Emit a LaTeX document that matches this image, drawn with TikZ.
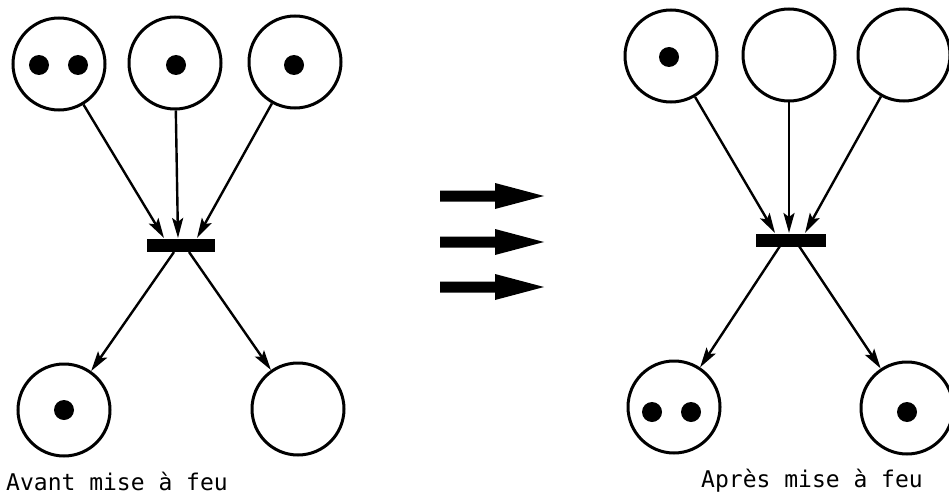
\documentclass[tikz,border=0pt]{standalone}
\usepackage{fontspec}
\setmonofont{DejaVu Sans Mono}
\usetikzlibrary{arrows.meta}
\tikzset{
  place/.style={circle, draw, line width=3pt, minimum size=92pt, inner sep=0pt},
  trans/.style={rectangle, fill=black, minimum width=68pt, minimum height=13pt, inner sep=0pt},
  arc/.style={line width=2.4pt, -{Stealth[length=20pt,width=11pt,inset=4pt]}},
  token/.style={fill=black},
  caption/.style={font=\ttfamily\fontsize{23}{27}\selectfont, inner sep=0pt},
  bigarrow/.style={fill=black}
}
\begin{document}
\begin{tikzpicture}[x=1pt,y=-1pt]
\useasboundingbox (0,0) rectangle (949,500);
% ---------- left net: before firing ----------
\node[place] (p1) at (59,64) {};
\node[place] (p2) at (175,63) {};
\node[place] (p3) at (295,62) {};
\node[trans] (t1) at (181,245) {};
\node[place] (p4) at (64,410) {};
\node[place] (p5) at (298,409) {};
\coordinate (t1a) at (164,238);
\coordinate (t1b) at (178,238);
\coordinate (t1c) at (197,238);
\coordinate (t1d) at (174,252);
\coordinate (t1e) at (189,252);
\draw[arc] (p1) -- (t1a);
\draw[arc] (p2) -- (t1b);
\draw[arc] (p3) -- (t1c);
\draw[arc] (t1d) -- (p4);
\draw[arc] (t1e) -- (p5);
\fill[token] (39,65) circle (10);
\fill[token] (78,65) circle (10);
\fill[token] (176,65) circle (10);
\fill[token] (294,65) circle (10);
\fill[token] (64,410) circle (10);
\node[caption] (c1) at (117,481) {Avant mise à feu};
% ---------- middle arrows ----------
\foreach \yy in {196,242,287}{
  \fill[bigarrow] (440,\yy-5.5) -- (495,\yy-5.5) -- (495,\yy-13) -- (544,\yy)
     -- (495,\yy+13) -- (495,\yy+5.5) -- (440,\yy+5.5) -- cycle;
}
% ---------- right net: after firing ----------
\node[place] (q1) at (671,56) {};
\node[place] (q2) at (789,55) {};
\node[place] (q3) at (904,55) {};
\node[trans, minimum width=70pt] (t2) at (791,240) {};
\node[place] (q4) at (674,407) {};
\node[place] (q5) at (907,408) {};
\coordinate (t2a) at (775,233);
\coordinate (t2b) at (789,233);
\coordinate (t2c) at (805,233);
\coordinate (t2d) at (780,246);
\coordinate (t2e) at (799,246);
\draw[arc] (q1) -- (t2a);
\draw[arc] (q2) -- (t2b);
\draw[arc] (q3) -- (t2c);
\draw[arc] (t2d) -- (q4);
\draw[arc] (t2e) -- (q5);
\fill[token] (669,57) circle (10);
\fill[token] (652,412) circle (10);
\fill[token] (691,412) circle (10);
\fill[token] (907,412) circle (10);
\node[caption] (c2) at (812,481) {Après mise à feu};
\end{tikzpicture}
\end{document}
